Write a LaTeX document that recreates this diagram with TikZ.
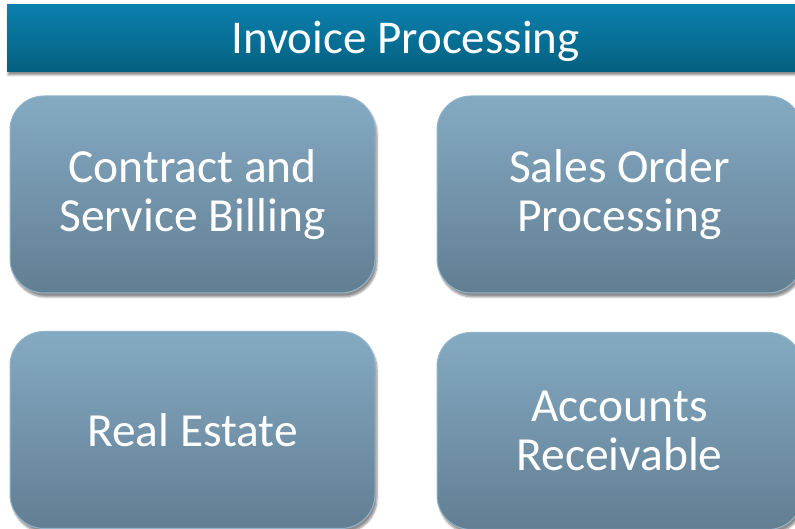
\documentclass[tikz,border=0pt]{standalone}
\usepackage{fontspec}
\setmainfont{Carlito}
\usetikzlibrary{shadows.blur}
\definecolor{barTop}{HTML}{0A80AE}
\definecolor{barBot}{HTML}{05607F}
\definecolor{boxTop}{HTML}{84AAC3}
\definecolor{boxBot}{HTML}{627E92}
\definecolor{boxEdge}{HTML}{93B5CB}
\tikzset{
  titlebar/.style={rectangle, top color=barTop, bottom color=barBot, draw=none,
    minimum width=797pt, minimum height=67pt, inner sep=0pt, text=white,
    font=\fontsize{47}{49}\selectfont,
    blur shadow={shadow xshift=1pt, shadow yshift=-3pt, shadow blur steps=6, shadow opacity=45}},
  tile/.style={rectangle, rounded corners=34pt, top color=boxTop, bottom color=boxBot,
    draw=boxEdge, line width=1pt, minimum width=365pt, minimum height=197pt,
    inner sep=0pt, text=white, align=center, font=\fontsize{47.5}{49}\selectfont,
    blur shadow={shadow xshift=2pt, shadow yshift=-4pt, shadow blur steps=6, shadow opacity=45}}
}
\begin{document}
\begin{tikzpicture}[x=1pt,y=1pt]
\useasboundingbox (0,0) rectangle (795,529);
\node[titlebar] (title) at (405.5,490.5) {\raisebox{-3pt}[\height][\depth]{Invoice Processing}};
\node[tile] (csb) at (192.5,334.5) {Contract and\\Service Billing};
\node[tile] (sop) at (619.5,334.5) {Sales Order\\Processing};
\node[tile] (re) at (192.5,99) {Real Estate};
\node[tile] (ar) at (619.5,98) {Accounts\\Receivable};
\end{tikzpicture}
\end{document}
